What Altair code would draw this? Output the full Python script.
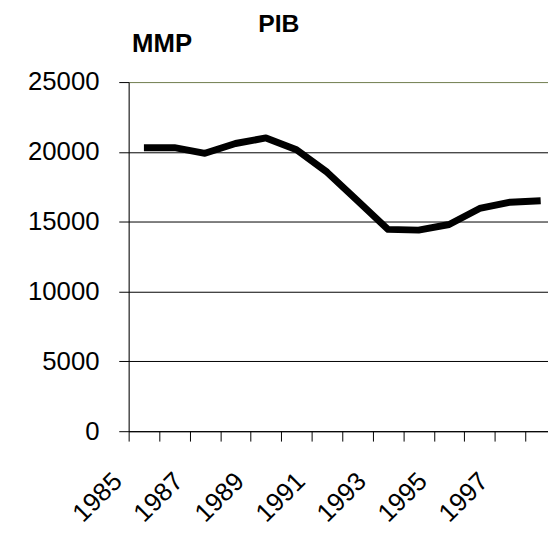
import altair as alt
import pandas as pd

years = [1985, 1986, 1987, 1988, 1989, 1990, 1991, 1992, 1993, 1994, 1995, 1996, 1997, 1998]
pib = [20300, 20300, 19900, 20600, 21000, 20150, 18550, 16500, 14450, 14400, 14800, 15950, 16400, 16500]
y_ticks = [0, 5000, 10000, 15000, 20000, 25000]
x_tick_marks = [y - 0.5 for y in years]
x_labels = [1985, 1987, 1989, 1991, 1993, 1995, 1997]

df = pd.DataFrame({"year": years, "pib": pib})

FONT = "Liberation Sans"

chart = alt.Chart(df).mark_line(color="black", strokeWidth=7, strokeJoin="round").encode(
    x=alt.X(
        "year:Q",
        scale=alt.Scale(domain=[1984.5, 1998.24], nice=False, zero=False),
        axis=alt.Axis(
            values=x_tick_marks + x_labels,
            labelExpr="datum.value % 1 == 0 ? '' + datum.value : ''",
            tickOpacity={"condition": {"test": "datum.value % 1 == 0", "value": 0}, "value": 1},
            grid=False,
            title=None,
            domainColor="black",
            tickColor="black",
            tickSize=10,
            labelAngle=-45,
            labelAlign="right",
            labelBaseline="top",
            labelOffset=-36,
            labelPadding=27,
            labelOverlap=False,
            labelFlush=False,
            labelFont=FONT,
            labelFontSize=26,
            labelColor="black",
        ),
    ),
    y=alt.Y(
        "pib:Q",
        scale=alt.Scale(domain=[0, 25000], nice=False),
        axis=alt.Axis(
            values=y_ticks,
            format="d",
            grid=True,
            gridColor={"condition": {"test": "datum.value == 25000", "value": "#737f52"}, "value": "black"},
            gridWidth=1,
            domainColor="black",
            tickColor="black",
            tickSize=10,
            labelPadding=20,
            labelFont=FONT,
            labelFontSize=26,
            labelColor="black",
            title="MMP",
            titleAngle=0,
            titleAlign="left",
            titleBaseline="alphabetic",
            titleX=3,
            titleY=-31,
            titleFont=FONT,
            titleFontSize=26,
            titleFontWeight="bold",
            titleColor="black",
        ),
    ),
).properties(
    width=424,
    height=353,
    padding={"left": 19, "top": 1, "right": 0, "bottom": 0},
    title=alt.TitleParams(
        text="PIB",
        anchor="start",
        frame="group",
        dx=131,
        font=FONT,
        fontSize=25,
        fontWeight="bold",
        color="black",
        offset=-6,
    ),
).configure_view(stroke=None).configure(background="white")

chart.save("out.html", embed_options={"renderer": "svg", "actions": False})
